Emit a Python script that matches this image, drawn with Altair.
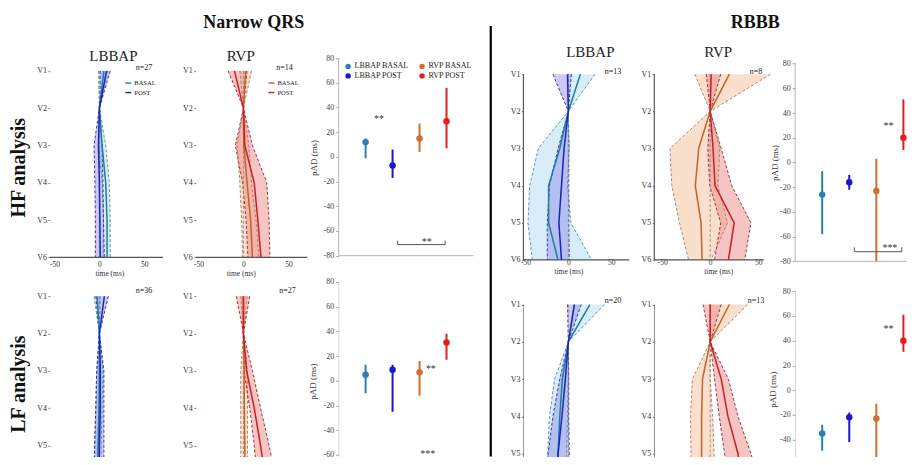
import altair as alt
import pandas as pd

FONT = "Liberation Serif"

LEADS = [1, 2, 3, 4, 5, 6]
SERIES = ["BASAL", "POST"]
TIME_TICKS = [-50, 0, 50]
PAD_TICKS = [-80, -60, -40, -20, 0, 20, 40, 60, 80]
PAD_GROUPS = ["LBBAP BASAL", "LBBAP POST", "RVP BASAL", "RVP POST"]
PAD_COLORS = ["#2a80b0", "#1818d0", "#d0702e", "#e01e24"]

# ---- lead activation-time profiles (ms), V1..V6 ----
# Narrow QRS, HF analysis
nqrs_hf_lbbap_basal_mean = [5, 0, 3, 7, 8.5, 8.5]
nqrs_hf_lbbap_basal_lo = [-1, 0, -1, 3, 4.5, 4]
nqrs_hf_lbbap_basal_hi = [9, 0, 7, 11, 12, 12]
nqrs_hf_lbbap_post_mean = [8, 0, -1, 0, 0.5, 1]
nqrs_hf_lbbap_post_lo = [1, 0, -6, -5, -4.5, -4.5]
nqrs_hf_lbbap_post_hi = [12, 0, 3, 4, 4.5, 5.5]

nqrs_hf_rvp_basal_mean = [2.5, 0, 0.5, 4, 8, 10]
nqrs_hf_rvp_basal_lo = [-4, 0, -7, -4, -2, -1]
nqrs_hf_rvp_basal_hi = [9, 0, 6, 9, 14, 17]
nqrs_hf_rvp_post_mean = [-10, 0, 1.5, 12, 16, 19.5]
nqrs_hf_rvp_post_lo = [-17, 0, -9, -1, 3, 5]
nqrs_hf_rvp_post_hi = [4, 0, 10, 26, 28.5, 29.5]

# RBBB, HF analysis
rbbb_hf_lbbap_basal_mean = [14, 0, -10, -23, -23, -12]
rbbb_hf_lbbap_basal_lo = [0, 0, -35, -45, -47, -42]
rbbb_hf_lbbap_basal_hi = [31, 0, 1, -1, 3, 27]
rbbb_hf_lbbap_post_mean = [-1, 0, -5, -8, -11, -8]
rbbb_hf_lbbap_post_lo = [-18, 0, -12, -22, -24.5, -24.5]
rbbb_hf_lbbap_post_hi = [3.5, 0, 0.5, 0.5, 0.5, 1]

rbbb_hf_rvp_basal_mean = [20, 0, -12, -15.5, -9.5, -8.5]
rbbb_hf_rvp_basal_lo = [-16, 0, -42, -40, -32, -22.5]
rbbb_hf_rvp_basal_hi = [63, 0, 10, 8, 18, 1]
rbbb_hf_rvp_post_mean = [1, 0, 3, 5, 25, 19]
rbbb_hf_rvp_post_lo = [-4, 0, -2.5, -0.5, 11, 4.5]
rbbb_hf_rvp_post_hi = [11, 0, 11.5, 22.5, 42.5, 36]

# Narrow QRS, LF analysis
nqrs_lf_lbbap_basal_mean = [-2.5, 0, 0, -0.5, -1.5, -2.5]
nqrs_lf_lbbap_basal_lo = [-6, 0, -3, -4, -5, -6]
nqrs_lf_lbbap_basal_hi = [1, 0, 4, 3, 2, 2]
nqrs_lf_lbbap_post_mean = [5.5, 0, 1, 1, 0, -0.5]
nqrs_lf_lbbap_post_lo = [-4, 0, -3, -4, -5.5, -6]
nqrs_lf_lbbap_post_hi = [10, 0, 5, 5, 5, 5]

nqrs_lf_rvp_basal_mean = [0, 0, 0.7, 1, 1.5, 2]
nqrs_lf_rvp_basal_lo = [-3, 0, -3, -3, -3, -3]
nqrs_lf_rvp_basal_hi = [4, 0, 4.5, 4.5, 4.5, 5]
nqrs_lf_rvp_post_mean = [0, 0, 3.5, 12, 19, 25]
nqrs_lf_rvp_post_lo = [-8, 0, 0.5, 7, 12, 16]
nqrs_lf_rvp_post_hi = [7, 0, 10, 19, 28.5, 37]

# RBBB, LF analysis
rbbb_lf_lbbap_basal_mean = [25, 0, -7, -10, -12, -14]
rbbb_lf_lbbap_basal_lo = [7, 0, -16, -22, -24, -26]
rbbb_lf_lbbap_basal_hi = [42, 0, 0, -1, -2, -2]
rbbb_lf_lbbap_post_mean = [7, 0, -3.5, -7.5, -12, -14]
rbbb_lf_lbbap_post_lo = [-1, 0, -10, -18, -23.5, -25]
rbbb_lf_lbbap_post_hi = [15, 0, 0.5, 0.5, 1, 1.5]

rbbb_lf_rvp_basal_mean = [20, 0, -8, -9, -9, -9]
rbbb_lf_rvp_basal_lo = [0, 0, -18.5, -20.5, -20, -20]
rbbb_lf_rvp_basal_hi = [39, 0, 0, 2.5, 4, 5]
rbbb_lf_rvp_post_mean = [0, 0, 11.5, 18.5, 29, 35]
rbbb_lf_rvp_post_lo = [-7.5, 0, 4.5, 9.5, 15, 20]
rbbb_lf_rvp_post_hi = [11.5, 0, 19, 29, 42.5, 55]

# ---- pAD summaries (ms): mean, lower, upper for the 4 groups ----
pad_nqrs_hf_mean = [12, -7, 15, 29]
pad_nqrs_hf_lo = [-1, -17, 4, 7]
pad_nqrs_hf_hi = [15, 6, 27, 56]
pad_rbbb_hf_mean = [-26, -16, -23, 20]
pad_rbbb_hf_lo = [-58, -22, -80, 10]
pad_rbbb_hf_hi = [-7, -10, 3, 51]
pad_nqrs_lf_mean = [5, 9, 7, 31]
pad_nqrs_lf_lo = [-10, -25, -12, 17]
pad_nqrs_lf_hi = [13, 13, 16, 38]
pad_rbbb_lf_mean = [-35, -22, -23, 40]
pad_rbbb_lf_lo = [-49, -42, -80, 31]
pad_rbbb_lf_hi = [-28, -18, -11, 61]

LBBAP_STYLE = dict(line=["#1f7c9e", "#1c22b8"], fill=["#a8d8ee", "#8a8ae8"],
                   alpha=[0.45, 0.45], dash=["#4c8ca4", "#2a2a8a"])
RVP_STYLE = dict(line=["#c0652a", "#c81e24"], fill=["#f5c09a", "#f08a8a"],
                 alpha=[0.5, 0.5], dash=["#a87a62", "#8a2a2a"])


def lead_frame(bm, bl, bh, pm, pl, ph):
    rows = []
    for i, lead in enumerate(LEADS):
        rows.append({"lead": lead, "series": "BASAL", "mean": bm[i], "lo": bl[i], "hi": bh[i]})
        rows.append({"lead": lead, "series": "POST", "mean": pm[i], "lo": pl[i], "hi": ph[i]})
    return pd.DataFrame(rows)


def band_frame(df, s):
    d = df[df.series == s]
    lo = pd.DataFrame({"lead": d["lead"].values, "x": d["lo"].values, "k": d["lead"].values})
    hi = pd.DataFrame({"lead": d["lead"].values, "x": d["hi"].values,
                       "k": 2 * len(LEADS) + 1 - d["lead"].values})
    return pd.concat([lo, hi]).sort_values("k").reset_index(drop=True)


def one():
    return alt.Chart(pd.DataFrame({"k": [0]}))


def text_layer(txt, x, y, size, weight="normal", align="center", baseline="middle", angle=0, color="#222"):
    kw = dict(font=FONT, fontSize=size, fontWeight=weight, align=align, baseline=baseline, color=color)
    if angle:
        kw["angle"] = angle
    return alt.Chart(pd.DataFrame({"t": [txt]})).mark_text(**kw).encode(
        x=alt.value(x), y=alt.value(y), text="t:N")


def lead_panel(df, style, xdom, ydom, width, height, axis_end, top_row, rbbb,
               legend_xy=None, xtitle_xy=(0, 0), label_pad=2, texts=(), extras=()):
    clip = not top_row
    xs = alt.Scale(domain=xdom, nice=False, zero=False)
    ys = alt.Scale(domain=ydom, nice=False, zero=False, reverse=True)
    if top_row:
        xaxis = alt.Axis(values=TIME_TICKS, labelExpr="datum.value", title="time (ms)",
                         domain=False, ticks=False, grid=False, labelFontSize=7.5,
                         labelPadding=label_pad, labelColor="#333", labelFlush=False,
                         labelOverlap=False, titleFontSize=7.5, titleFontWeight="normal",
                         titleColor="#333", titleX=xtitle_xy[0], titleY=xtitle_xy[1],
                         titleBaseline="middle")
    else:
        xaxis = None
    yaxis = alt.Axis(values=LEADS if top_row else LEADS[:5], labelExpr="'V' + datum.value",
                     title=None, domain=False, grid=False, tickSize=2, tickColor="#777",
                     labelFontSize=8, labelColor="#333", labelPadding=1.5,
                     labelFlush=False, labelOverlap=False)

    def X(f):
        return alt.X(f"{f}:Q", scale=xs, axis=xaxis)

    def Y(f):
        return alt.Y(f"{f}:Q", scale=ys, axis=yaxis)

    def XD(v):
        return alt.XDatum(v, scale=xs, axis=xaxis)

    def YD(v):
        return alt.YDatum(v, scale=ys, axis=yaxis)

    base = alt.Chart(df)
    layers = []
    # shaded bands (closed polygons: lower edge V1->V6, upper edge V6->V1)
    for i, s in enumerate(SERIES):
        layers.append(alt.Chart(band_frame(df, s)).mark_line(
            fill=style["fill"][i], fillOpacity=style["alpha"][i], strokeOpacity=0,
            strokeWidth=0, clip=clip
        ).encode(x=X("x"), y=Y("lead"), order=alt.Order("k:Q")))
    for i, s in enumerate(SERIES):
        for f in ["lo", "hi"]:
            layers.append(base.transform_filter(alt.datum.series == s).mark_line(
                color=style["dash"][i], strokeDash=[3, 2], strokeWidth=0.9, clip=clip
            ).encode(x=X(f), y=Y("lead"), order=alt.Order("lead:Q")))
    layers.append(one().mark_rule(color="#8c8c8c", strokeDash=[3, 2], strokeWidth=0.9, clip=clip)
                  .encode(x=XD(0), y=YD(1), y2=alt.datum(6)))
    if top_row:
        layers.append(one().mark_rule(color="#555", strokeWidth=1.2)
                      .encode(x=XD(xdom[0]), x2=alt.datum(axis_end), y=YD(6)))
    if rbbb:
        layers.append(one().mark_rule(color="#555", strokeWidth=1.2, clip=clip)
                      .encode(x=XD(xdom[0]), y=YD(1), y2=alt.datum(6)))
    if legend_xy:
        leg = alt.Legend(orient="none", legendX=legend_xy[0], legendY=legend_xy[1], title=None,
                         symbolType="stroke", symbolSize=36, symbolStrokeWidth=1.4,
                         labelFontSize=6.5, labelFont=FONT, labelColor="#222",
                         rowPadding=1.5, labelOffset=2, padding=0)
    else:
        leg = None
    layers.append(base.mark_line(strokeWidth=1.5, clip=clip).encode(
        x=X("mean"), y=Y("lead"),
        color=alt.Color("series:N", scale=alt.Scale(domain=SERIES, range=style["line"]), legend=leg),
        order=alt.Order("lead:Q")))
    for t in texts:
        layers.append(text_layer(*t))
    layers.extend(extras)
    return alt.layer(*layers).properties(width=width, height=height)


def pad_panel(mean, lo, hi, ydom, width, height, xdom, top_row, title_xy,
              legend=False, sig=(), bracket=None, extras=()):
    clip = not top_row
    df = pd.DataFrame({"group": PAD_GROUPS, "pos": [1, 2, 3, 4], "mean": mean, "lo": lo, "hi": hi})
    xs = alt.Scale(domain=xdom, nice=False, zero=False)
    ys = alt.Scale(domain=ydom, nice=False, zero=False)
    yvals = [v for v in PAD_TICKS if ydom[0] - 0.01 <= v <= ydom[1] + 0.01]
    yaxis = alt.Axis(values=yvals, labelExpr="datum.value", title="pAD (ms)", domain=False,
                     grid=False, tickSize=3, tickColor="#aaa", labelFontSize=8,
                     labelColor="#444", labelPadding=2, labelFlush=False, labelOverlap=False,
                     titleFontSize=9, titleFontWeight="normal", titleColor="#333",
                     titleX=title_xy[0], titleY=title_xy[1], titleBaseline="middle")

    def XD(v):
        return alt.XDatum(v, scale=xs, axis=None)

    def YD(v):
        return alt.YDatum(v, scale=ys, axis=yaxis)

    cs = alt.Scale(domain=PAD_GROUPS, range=PAD_COLORS)
    color_of = dict(zip(PAD_GROUPS, PAD_COLORS))
    layers = []
    layers.append(one().mark_rule(color="#b5b5b5", strokeWidth=1, clip=clip)
                  .encode(x=XD(0), y=YD(80), y2=alt.datum(-80)))
    if top_row:
        layers.append(one().mark_rule(color="#b5b5b5", strokeWidth=1)
                      .encode(x=XD(0), x2=alt.datum(min(5.0, xdom[1])), y=YD(-80)))
    base = alt.Chart(df)
    for g in PAD_GROUPS:
        layers.append(base.transform_filter(alt.datum.group == g).mark_rule(
            strokeWidth=2, color=color_of[g], clip=clip).encode(
            x=alt.X("pos:Q", scale=xs, axis=None),
            y=alt.Y("lo:Q", scale=ys, axis=yaxis), y2="hi"))
    if legend:
        # entries fill column by column: LBBAP in the first column, RVP in the second
        leg = alt.Legend(orient="none", legendX=5.5, legendY=4.2, title=None, columns=2,
                         values=PAD_GROUPS,
                         symbolType="circle", symbolSize=30, symbolStrokeWidth=0,
                         labelFontSize=8, labelFont=FONT, labelColor="#222",
                         columnPadding=9, rowPadding=1.5, labelOffset=2.5, padding=0)
    else:
        leg = None
    layers.append(base.mark_circle(size=42, opacity=1, clip=clip).encode(
        x=alt.X("pos:Q", scale=xs, axis=None),
        y=alt.Y("mean:Q", scale=ys, axis=yaxis),
        color=alt.Color("group:N", scale=cs, legend=leg)))
    if bracket:
        x1, x2, yb, yt = bracket
        layers.append(one().mark_rule(color="#555", strokeWidth=1, clip=clip)
                      .encode(x=XD(x1), x2=alt.datum(x2), y=YD(yb)))
        for xx in (x1, x2):
            layers.append(one().mark_rule(color="#555", strokeWidth=1, clip=clip)
                          .encode(x=XD(xx), y=YD(yb), y2=alt.datum(yt)))
    for txt, sx, sy in sig:
        layers.append(one().mark_text(font=FONT, fontSize=10, color="#333", baseline="middle",
                                      dy=2)
                      .encode(x=XD(sx), y=YD(sy), text=alt.value(txt)))
    layers.extend(extras)
    return alt.layer(*layers).properties(width=width, height=height)


# ---------- panels ----------
anchor = one().mark_rule(color="white", strokeWidth=1).encode(
    x=alt.value(-41.5), y=alt.value(-49.3), y2=alt.value(-48.3))

p1 = lead_panel(
    lead_frame(nqrs_hf_lbbap_basal_mean, nqrs_hf_lbbap_basal_lo, nqrs_hf_lbbap_basal_hi,
               nqrs_hf_lbbap_post_mean, nqrs_hf_lbbap_post_lo, nqrs_hf_lbbap_post_hi),
    LBBAP_STYLE, [-55, 106.67], [0.66, 6], 145.5, 199.4, 70.8, True, False,
    legend_xy=(74.5, 20.9), xtitle_xy=(59.5, 16.3), label_pad=3.3,
    texts=[("LBBAP", 63.5, 2.7, 15, "normal", "center", "alphabetic"),
           ("n=27", 102.5, 9.4, 8, "normal", "right", "middle"),
           ("HF analysis", -30.5, 109.7, 20, "bold", "center", "middle", 270, "#111")],
    extras=[anchor])

p2 = lead_panel(
    lead_frame(nqrs_hf_rvp_basal_mean, nqrs_hf_rvp_basal_lo, nqrs_hf_rvp_basal_hi,
               nqrs_hf_rvp_post_mean, nqrs_hf_rvp_post_lo, nqrs_hf_rvp_post_hi),
    RVP_STYLE, [-53, 105.56], [0.66, 6], 142.7, 199.4, 71, True, False,
    legend_xy=(71.7, 20.9), xtitle_xy=(45, 16.3), label_pad=3.3,
    texts=[("RVP", 45, 2.7, 15, "normal", "center", "alphabetic"),
           ("n=14", 97, 9.4, 8, "normal", "right", "middle"),
           ("Narrow QRS", 58, -30.3, 18, "bold", "center", "alphabetic", 0, "#111")])

separator = one().mark_rule(color="black", strokeWidth=2.2).encode(
    x=alt.value(152.3), y=alt.value(-32.3), y2=alt.value(398.7))

p3 = pad_panel(pad_nqrs_hf_mean, pad_nqrs_hf_lo, pad_nqrs_hf_hi, [-80, 80], 184.3, 197.7,
               [0, 6.826], True, (-24.7, 99.4), legend=True,
               sig=[("**", 1.5, 32), ("**", 3.27, -67.3)],
               bracket=(2.19, 3.95, -71, -67.8), extras=[separator])

p4 = lead_panel(
    lead_frame(rbbb_hf_lbbap_basal_mean, rbbb_hf_lbbap_basal_lo, rbbb_hf_lbbap_basal_hi,
               rbbb_hf_lbbap_post_mean, rbbb_hf_lbbap_post_lo, rbbb_hf_lbbap_post_hi),
    LBBAP_STYLE, [-52.3, 100.03], [0.57, 6], 131, 202, 71, True, True,
    xtitle_xy=(45, 11.8), label_pad=-1,
    texts=[("LBBAP", 67, -1.3, 15, "normal", "center", "alphabetic"),
           ("n=13", 98, 13.4, 8, "normal", "right", "middle")])

p5 = lead_panel(
    lead_frame(rbbb_hf_rvp_basal_mean, rbbb_hf_rvp_basal_lo, rbbb_hf_rvp_basal_hi,
               rbbb_hf_rvp_post_mean, rbbb_hf_rvp_post_lo, rbbb_hf_rvp_post_hi),
    RVP_STYLE, [-58.3, 88.575], [0.57, 6], 141, 202, 56, True, True,
    xtitle_xy=(64, 11.8), label_pad=-1,
    texts=[("RVP", 64, -1.3, 15, "normal", "center", "alphabetic"),
           ("n=8", 108, 13.4, 8, "normal", "right", "middle"),
           ("RBBB", 101, -30.3, 18, "bold", "center", "alphabetic", 0, "#111")])

p6 = pad_panel(pad_rbbb_hf_mean, pad_rbbb_hf_lo, pad_rbbb_hf_hi, [-80, 84.36], 112, 203.4,
               [0, 4.133], True, (-21, 104.4),
               sig=[("**", 3.45, 31.5), ("***", 3.5, -67.3)],
               bracket=(2.19, 3.94, -72.2, -68.7))

p7 = lead_panel(
    lead_frame(nqrs_lf_lbbap_basal_mean, nqrs_lf_lbbap_basal_lo, nqrs_lf_lbbap_basal_hi,
               nqrs_lf_lbbap_post_mean, nqrs_lf_lbbap_post_lo, nqrs_lf_lbbap_post_hi),
    LBBAP_STYLE, [-55, 106.67], [0.6166, 5.316], 145.5, 175.3, 70.8, False, False,
    texts=[("n=36", 102.5, 9.3, 8, "normal", "right", "middle"),
           ("LF analysis", -30.5, 102.3, 20, "bold", "center", "middle", 270, "#111")])

p8 = lead_panel(
    lead_frame(nqrs_lf_rvp_basal_mean, nqrs_lf_rvp_basal_lo, nqrs_lf_rvp_basal_hi,
               nqrs_lf_rvp_post_mean, nqrs_lf_rvp_post_lo, nqrs_lf_rvp_post_hi),
    RVP_STYLE, [-53, 105.56], [0.6166, 5.316], 142.7, 175.3, 71, False, False,
    texts=[("n=27", 100, 9.3, 8, "normal", "right", "middle")])

p9 = pad_panel(pad_nqrs_lf_mean, pad_nqrs_lf_lo, pad_nqrs_lf_hi, [-61.66, 80], 184.3, 175.3,
               [0, 6.826], False, (-26, 99.3),
               sig=[("**", 3.42, 11), ("***", 3.3, -57.5)])

p10 = lead_panel(
    lead_frame(rbbb_lf_lbbap_basal_mean, rbbb_lf_lbbap_basal_lo, rbbb_lf_lbbap_basal_hi,
               rbbb_lf_lbbap_post_mean, rbbb_lf_lbbap_post_lo, rbbb_lf_lbbap_post_hi),
    LBBAP_STYLE, [-52.3, 100.03], [0.395, 5.088], 131, 175.3, 71, False, True,
    texts=[("n=20", 98, 19.3, 8, "normal", "right", "middle")])

p11 = lead_panel(
    lead_frame(rbbb_lf_rvp_basal_mean, rbbb_lf_rvp_basal_lo, rbbb_lf_rvp_basal_hi,
               rbbb_lf_rvp_post_mean, rbbb_lf_rvp_post_lo, rbbb_lf_rvp_post_hi),
    RVP_STYLE, [-58.3, 88.575], [0.395, 5.088], 141, 175.3, 56, False, True,
    texts=[("n=13", 110, 19.3, 8, "normal", "right", "middle")])

p12 = pad_panel(pad_rbbb_lf_mean, pad_rbbb_lf_lo, pad_rbbb_lf_hi, [-54.14, 87.52], 112, 175.3,
                [0, 4.133], False, (-22.3, 107.3),
                sig=[("**", 3.45, 51)])

chart = alt.concat(
    p1, p2, p3, p4, p5, p6, p7, p8, p9, p10, p11, p12,
    columns=6, spacing={"row": 20, "column": 0}, bounds="flush", align="each"
).resolve_scale(color="independent", x="independent", y="independent").properties(
    padding=0
).configure(font=FONT).configure_view(stroke=None)

chart.save("out.html", embed_options={"renderer": "svg", "actions": False})
